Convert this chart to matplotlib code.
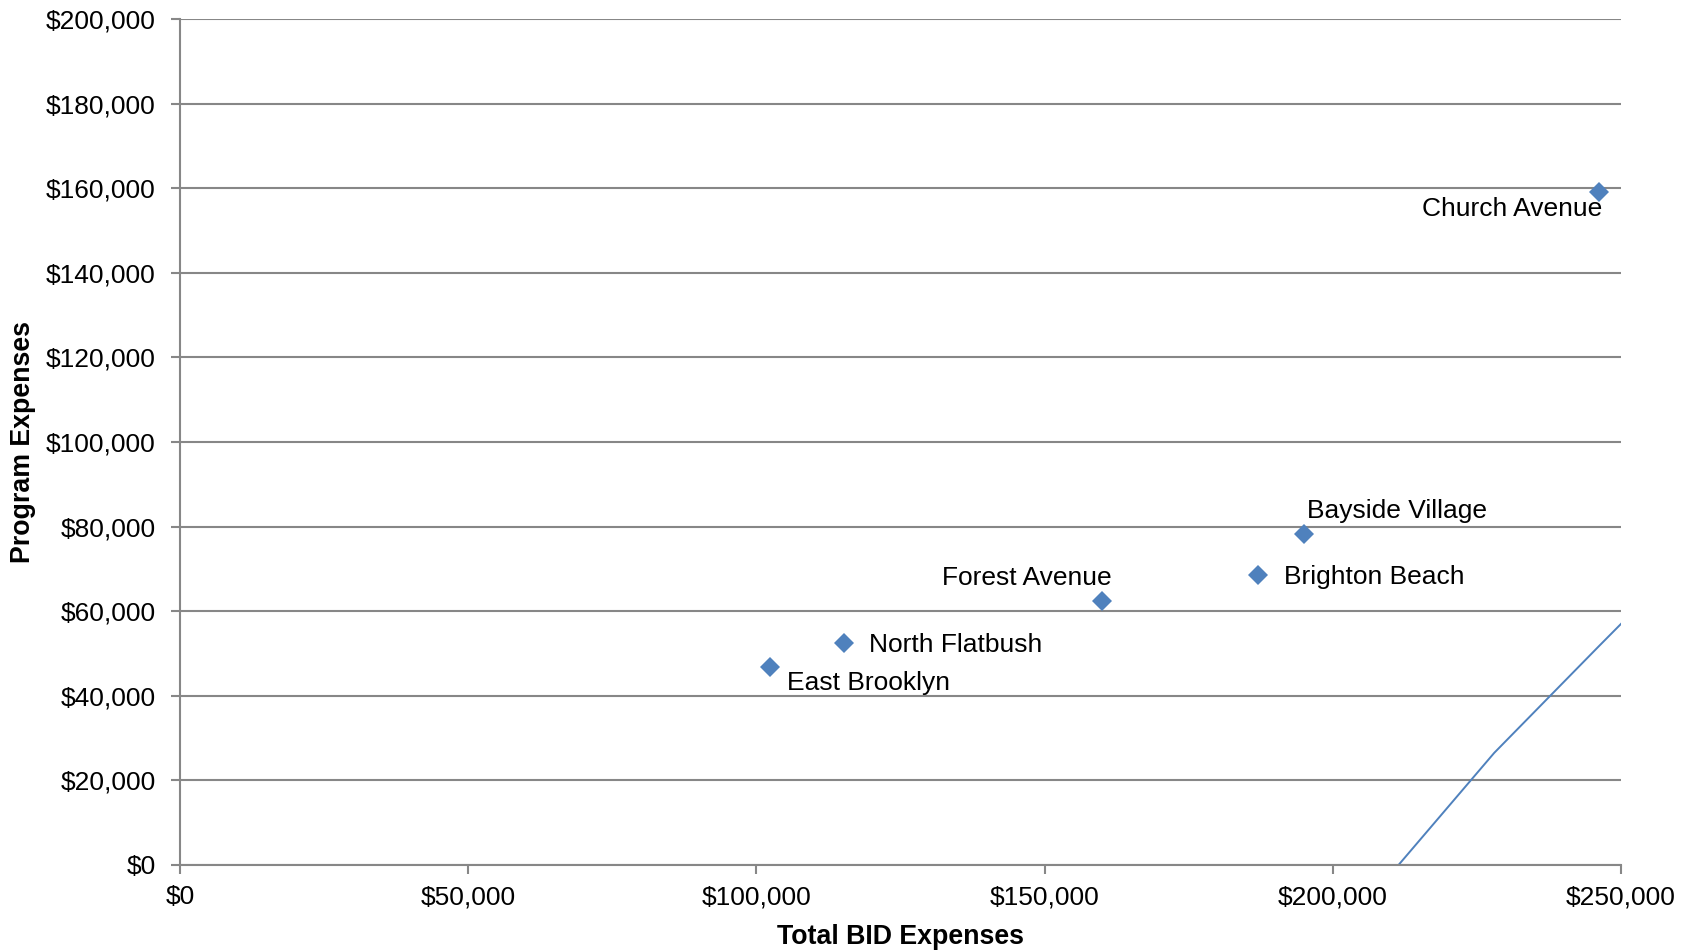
import matplotlib
matplotlib.use("Agg")
import matplotlib.pyplot as plt
from matplotlib.ticker import FuncFormatter, MultipleLocator

plt.rcParams["font.family"] = ["Liberation Sans", "DejaVu Sans"]

# BID data points (total expenses vs program expenses)
names = ["East Brooklyn", "North Flatbush", "Forest Avenue",
         "Bayside Village", "Brighton Beach", "Church Avenue"]
total_exp = [102400, 115200, 160000, 195000, 187000, 246200]
program_exp = [46900, 52400, 62500, 78200, 68600, 159200]

# label placement (offset in points, alignment) per point
label_pos = {
    "East Brooklyn": ((12, -11.5), "left"),
    "North Flatbush": ((18, -1.5), "left"),
    "Forest Avenue": ((7, 16.5), "right"),
    "Bayside Village": ((2, 16.5), "left"),
    "Brighton Beach": ((19, -1.5), "left"),
    "Church Avenue": ((2, -12.5), "right"),
}

# reference line
line_x = [211400, 228000, 246000, 250000]
line_y = [0, 26500, 51500, 57000]

BLUE = "#4F81BD"
GRID = "#878787"

fig = plt.figure(figsize=(16.98, 9.5), dpi=100)
ax = fig.add_axes([180 / 1698, 1 - 865 / 950, 1441 / 1698, 846 / 950])

ax.plot(line_x, line_y, color=BLUE, linewidth=1.4, zorder=2)
ax.plot(total_exp, program_exp, linestyle="none", marker="D", markersize=10,
        markeredgewidth=0, color=BLUE, zorder=3)

for n, x, y in zip(names, total_exp, program_exp):
    (dx, dy), ha = label_pos[n]
    ax.annotate(n, (x, y), xytext=(dx, dy), textcoords="offset points",
                ha=ha, va="center", fontsize=19, color="black", zorder=4)

ax.set_xlim(0, 250000)
ax.set_ylim(0, 200000)
ax.xaxis.set_major_locator(MultipleLocator(50000))
ax.yaxis.set_major_locator(MultipleLocator(20000))
money = FuncFormatter(lambda v, p: f"${v:,.0f}")
ax.xaxis.set_major_formatter(money)
ax.yaxis.set_major_formatter(money)

ax.grid(axis="y", color=GRID, linewidth=1.5)
ax.set_axisbelow(True)
for side in ["top", "right"]:
    ax.spines[side].set_visible(False)
for side in ["left", "bottom"]:
    ax.spines[side].set_color(GRID)
    ax.spines[side].set_linewidth(1.5)

ax.tick_params(axis="both", direction="out", length=6.5, width=1.5, color=GRID,
               labelsize=19, labelcolor="black")
ax.tick_params(axis="y", pad=11)
ax.tick_params(axis="x", pad=8)

ax.set_xlabel("Total BID Expenses", fontsize=19.3, fontweight="bold", labelpad=11)
ax.set_ylabel("Program Expenses", fontsize=19.3, fontweight="bold", labelpad=7)

fig.savefig("out.png", dpi=100)
